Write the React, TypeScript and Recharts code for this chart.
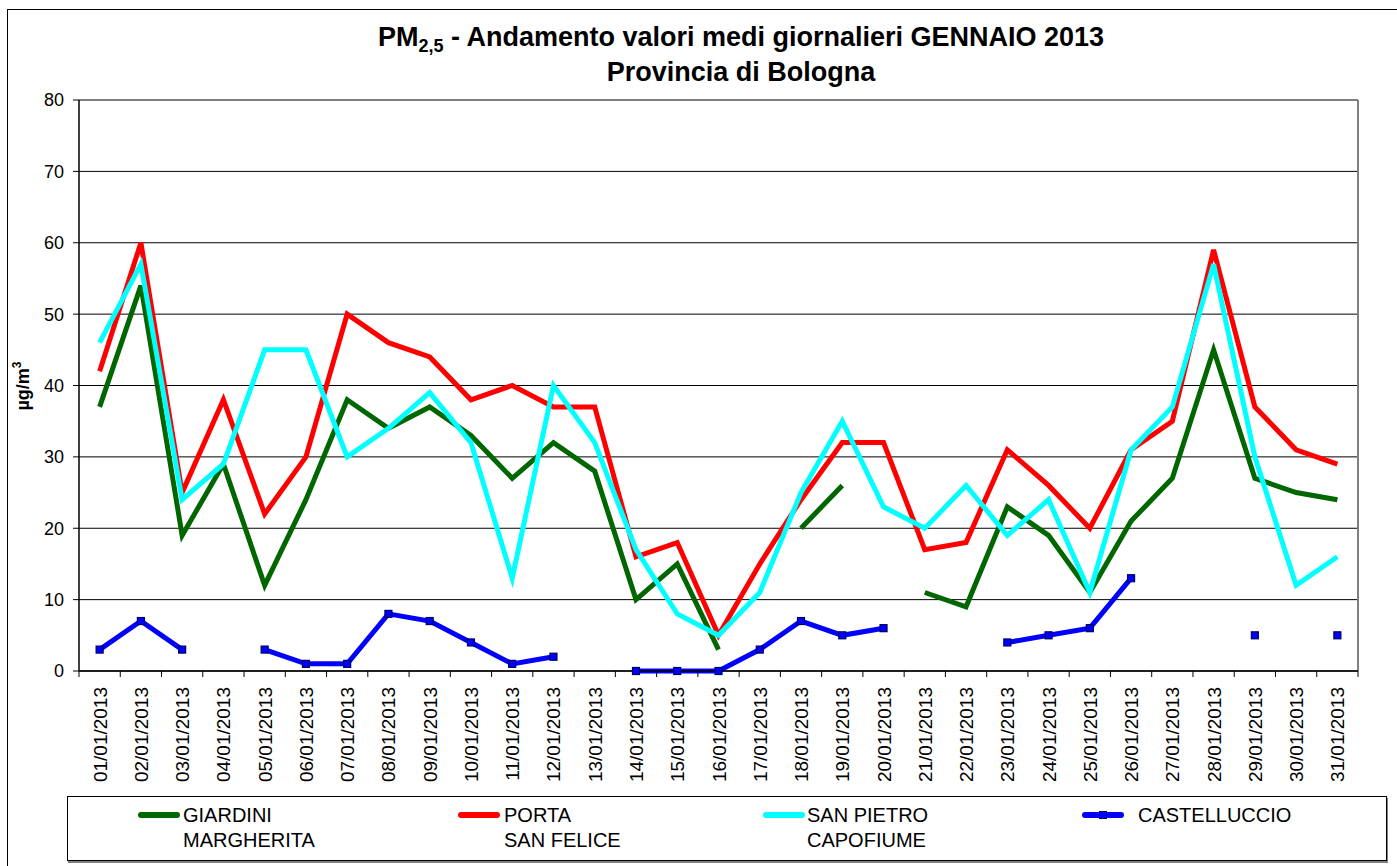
import { LineChart, Line, XAxis, YAxis, CartesianGrid } from "recharts";

const days = Array.from({ length: 31 }, (_, i) => `${String(i + 1).padStart(2, "0")}/01/2013`);

const giardini = [37, 54, 19, 29, 12, 24, 38, 34, 37, 33, 27, 32, 28, 10, 15, 3, null, 20, 26, null, 11, 9, 23, 19, 11, 21, 27, 45, 27, 25, 24];
const portaSanFelice = [42, 60, 25, 38, 22, 30, 50, 46, 44, 38, 40, 37, 37, 16, 18, 5, 15, 24, 32, 32, 17, 18, 31, 26, 20, 31, 35, 59, 37, 31, 29];
const sanPietro = [46, 57, 24, 29, 45, 45, 30, 34, 39, 32, 13, 40, 32, 17, 8, 5, 11, 25, 35, 23, 20, 26, 19, 24, 11, 31, 37, 57, 30, 12, 16];
const castelluccio = [3, 7, 3, null, 3, 1, 1, 8, 7, 4, 1, 2, null, 0, 0, 0, 3, 7, 5, 6, null, null, 4, 5, 6, 13, null, null, 5, null, 5];

const yTicks = [0, 10, 20, 30, 40, 50, 60, 70, 80];

const data = days.map((day, i) => ({
  day,
  giardini: giardini[i],
  porta: portaSanFelice[i],
  sanPietro: sanPietro[i],
  castelluccio: castelluccio[i],
}));

const W = 1390;
const H = 856;
const FONT = '"Liberation Sans", Arial, sans-serif';

// plot area: left 71, right margin 40 -> width 1279, 31 categories
const BAND = (W - 71 - 40) / days.length;

const XTick = (props: any) => {
  const { x, y, payload, index } = props;
  const top = y - 8;
  return (
    <g>
      <line x1={x - BAND / 2} x2={x - BAND / 2} y1={top} y2={top + 6} stroke="#000" />
      {index === days.length - 1 && (
        <line x1={x + BAND / 2} x2={x + BAND / 2} y1={top} y2={top + 6} stroke="#000" />
      )}
      <text
        transform={`translate(${x + 7},${top + 16}) rotate(-90)`}
        textAnchor="end"
        fontSize={19}
        fontFamily={FONT}
        fill="#000"
      >
        {payload.value}
      </text>
    </g>
  );
};

const SquareDot = (props: any) => {
  const { cx, cy, value, index } = props;
  if (value == null || cx == null || cy == null) return <g key={index} />;
  return <rect key={index} x={cx - 3.5} y={cy - 3.5} width={7} height={7} fill="#0000ff" stroke="#000066" strokeWidth={1.2} />;
};

const legendItems = [
  { color: "#006600", lines: ["GIARDINI", "MARGHERITA"], sample: 70, text: 115 },
  { color: "#ff0000", lines: ["PORTA", "SAN FELICE"], sample: 390, text: 436 },
  { color: "#00ffff", lines: ["SAN PIETRO", "CAPOFIUME"], sample: 695, text: 739 },
  { color: "#0000ff", lines: ["CASTELLUCCIO"], sample: 1014, text: 1070, marker: true },
];

export default function App() {
  return (
    <div
      style={{
        position: "absolute",
        left: 7,
        top: 9,
        width: W,
        height: H,
        border: "1px solid #000",
        background: "#fff",
        fontFamily: FONT,
      }}
    >
      <div
        style={{
          position: "absolute",
          left: 0,
          top: 10,
          width: 1466,
          textAlign: "center",
          fontWeight: "bold",
          fontSize: 27,
          lineHeight: "35px",
        }}
      >
        <div>
          PM<sub style={{ fontSize: 18, verticalAlign: "-6px", lineHeight: 0 }}>2,5</sub> - Andamento valori medi giornalieri GENNAIO 2013
        </div>
        <div>Provincia di Bologna</div>
      </div>

      <LineChart width={W} height={H} data={data} margin={{ top: 90, right: 40, left: 0, bottom: 75 }}>
        <CartesianGrid vertical={false} stroke="#000" strokeWidth={1} />
        <CartesianGrid
          horizontal={false}
          stroke="#808080"
          strokeWidth={2}
          verticalCoordinatesGenerator={({ offset }: any) => [offset.left + offset.width]}
        />
        <XAxis
          dataKey="day"
          scale="band"
          interval={0}
          height={120}
          tickLine={false}
          axisLine={{ stroke: "#000", strokeWidth: 1.5 }}
          tick={<XTick />}
        />
        <YAxis
          width={71}
          domain={[0, 80]}
          ticks={yTicks}
          interval={0}
          tickSize={6}
          tickMargin={9}
          axisLine={{ stroke: "#000", strokeWidth: 1.5 }}
          tickLine={{ stroke: "#000" }}
          tick={{ fill: "#000", fontSize: 18, fontFamily: FONT }}
          label={{
            content: () => (
              <text
                transform="translate(21,376) rotate(-90)"
                textAnchor="middle"
                fontSize={18}
                fontWeight="bold"
                fontFamily={FONT}
                fill="#000"
              >
                µg/m
                <tspan fontSize={12} dy={-8}>
                  3
                </tspan>
              </text>
            ),
          }}
        />
        <Line type="linear" dataKey="giardini" stroke="#006600" strokeWidth={5} dot={false} activeDot={false} isAnimationActive={false} />
        <Line type="linear" dataKey="porta" stroke="#ff0000" strokeWidth={5} dot={false} activeDot={false} isAnimationActive={false} />
        <Line type="linear" dataKey="sanPietro" stroke="#00ffff" strokeWidth={5} dot={false} activeDot={false} isAnimationActive={false} />
        <Line
          type="linear"
          dataKey="castelluccio"
          stroke="#0000ff"
          strokeWidth={5}
          dot={<SquareDot />}
          activeDot={false}
          isAnimationActive={false}
        />
      </LineChart>

      <div
        style={{
          position: "absolute",
          left: 59,
          top: 786,
          width: 1318,
          height: 63,
          border: "1px solid #000",
          boxShadow: "1px 2px 0 #808080",
          background: "#fff",
          fontSize: 20,
          lineHeight: "25px",
        }}
      >
        {legendItems.map((it) => (
          <div key={it.lines[0]}>
            <div
              style={{
                position: "absolute",
                left: it.sample,
                top: 15,
                width: 42,
                height: 6,
                borderRadius: 3,
                background: it.color,
              }}
            />
            {it.marker && (
              <div
                style={{
                  position: "absolute",
                  left: it.sample + 17,
                  top: 14,
                  width: 6,
                  height: 6,
                  background: "#0000ff",
                  border: "1px solid #000066",
                }}
              />
            )}
            <div style={{ position: "absolute", left: it.text, top: 6 }}>
              {it.lines.map((l) => (
                <div key={l}>{l}</div>
              ))}
            </div>
          </div>
        ))}
      </div>
    </div>
  );
}
